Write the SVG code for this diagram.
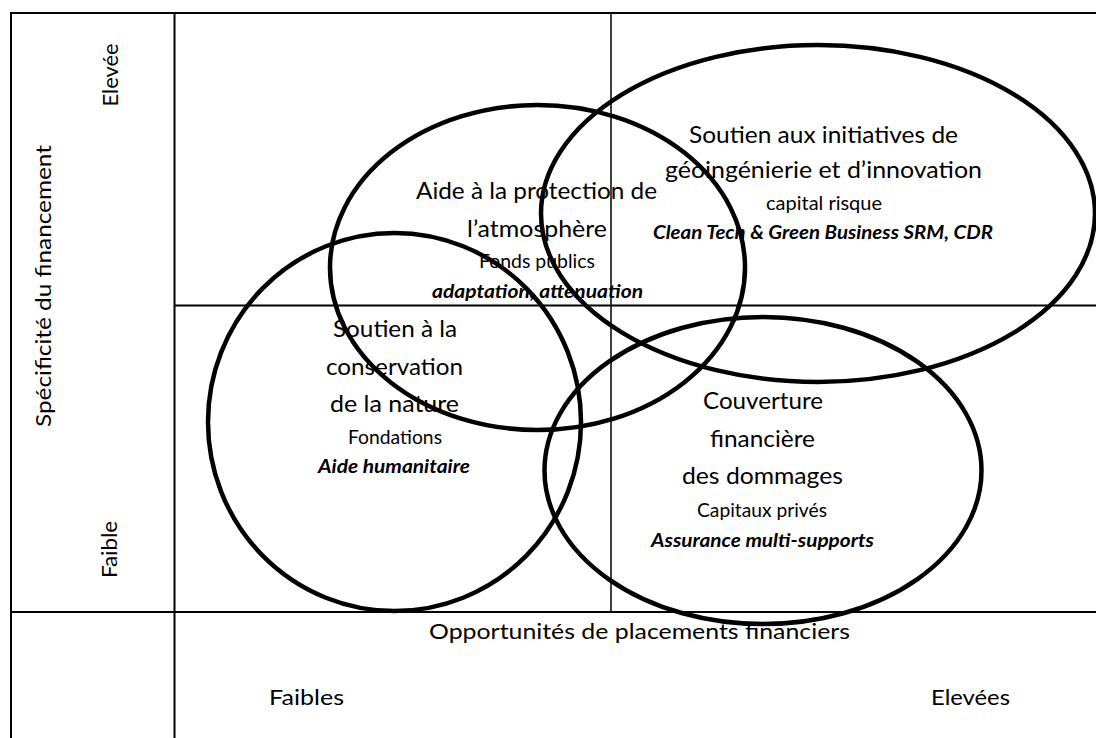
<svg xmlns="http://www.w3.org/2000/svg" width="1096" height="738" viewBox="0 0 1096 738">
<style>
text{font-family:Lato,"Liberation Sans",sans-serif;fill:#000;text-anchor:middle}
.big{font-size:23px}
.sm{font-size:19px}
.bi{font-size:19px;font-weight:bold;font-style:italic}
.ax{font-size:22px}
.grid{stroke:#000;stroke-width:2;fill:none}
.mid{stroke:#000;stroke-width:1.5;fill:none}
.ell{stroke:#000;stroke-width:4.5;fill:none}
</style>
<rect width="1096" height="738" fill="#fff"/>
<g id="table">
<line class="grid" x1="11" y1="13" x2="1096" y2="13"/>
<line class="grid" x1="11" y1="12" x2="11" y2="738"/>
<line class="grid" x1="174.5" y1="12" x2="174.5" y2="738"/>
<line class="grid" x1="11" y1="612" x2="1096" y2="612"/>
<line class="mid" x1="611" y1="13" x2="611" y2="612"/>
<line class="grid" x1="174.5" y1="305.5" x2="1096" y2="305.5"/>
</g>
<g id="axes">
<text class="ax" transform="translate(51,286) rotate(-90)" textLength="282" lengthAdjust="spacingAndGlyphs">Spécificité du financement</text>
<text class="ax" transform="translate(118,75) rotate(-90)" textLength="63" lengthAdjust="spacingAndGlyphs">Elevée</text>
<text class="ax" transform="translate(117,549.5) rotate(-90)" textLength="57" lengthAdjust="spacingAndGlyphs">Faible</text>
<text class="ax" x="639.5" y="639" textLength="421" lengthAdjust="spacingAndGlyphs">Opportunités de placements financiers</text>
<text class="ax" x="306.5" y="705" textLength="75" lengthAdjust="spacingAndGlyphs">Faibles</text>
<text class="ax" x="970.5" y="705" textLength="79" lengthAdjust="spacingAndGlyphs">Elevées</text>
</g>
<g id="nature">
<ellipse class="ell" cx="394.5" cy="422" rx="186.5" ry="189"/>
<text class="big" x="395" y="337" textLength="124" lengthAdjust="spacingAndGlyphs">Soutien à la</text>
<text class="big" x="394.5" y="375" textLength="137" lengthAdjust="spacingAndGlyphs">conservation</text>
<text class="big" x="394.5" y="412" textLength="129" lengthAdjust="spacingAndGlyphs">de la nature</text>
<text class="sm" x="395" y="444" textLength="94" lengthAdjust="spacingAndGlyphs">Fondations</text>
<text class="bi" x="394" y="473" textLength="152" lengthAdjust="spacingAndGlyphs">Aide humanitaire</text>
</g>
<g id="atmosphere">
<ellipse class="ell" cx="537.5" cy="267.5" rx="207.5" ry="162.5"/>
<text class="big" x="536.5" y="199" textLength="241" lengthAdjust="spacingAndGlyphs">Aide à la protection de</text>
<text class="big" x="537" y="237" textLength="140" lengthAdjust="spacingAndGlyphs">l’atmosphère</text>
<text class="sm" x="537" y="268" textLength="116" lengthAdjust="spacingAndGlyphs">Fonds publics</text>
<text class="bi" x="537.5" y="298" textLength="211" lengthAdjust="spacingAndGlyphs">adaptation, attenuation</text>
</g>
<g id="geoingenierie">
<ellipse class="ell" cx="818" cy="213.5" rx="277" ry="168.5"/>
<text class="big" x="823.5" y="143" textLength="269" lengthAdjust="spacingAndGlyphs">Soutien aux initiatives de</text>
<text class="big" x="823.5" y="178" textLength="317" lengthAdjust="spacingAndGlyphs">géoingénierie et d’innovation</text>
<text class="sm" x="824" y="210" textLength="116" lengthAdjust="spacingAndGlyphs">capital risque</text>
<text class="bi" x="823" y="239" textLength="340" lengthAdjust="spacingAndGlyphs">Clean Tech &amp; Green Business SRM, CDR</text>
</g>
<g id="dommages">
<ellipse class="ell" cx="763" cy="470.5" rx="218.5" ry="153.5"/>
<text class="big" x="763" y="409" textLength="120" lengthAdjust="spacingAndGlyphs">Couverture</text>
<text class="big" x="762.5" y="447" textLength="105" lengthAdjust="spacingAndGlyphs">financière</text>
<text class="big" x="762.5" y="484" textLength="161" lengthAdjust="spacingAndGlyphs">des dommages</text>
<text class="sm" x="762" y="517" textLength="130" lengthAdjust="spacingAndGlyphs">Capitaux privés</text>
<text class="bi" x="762.5" y="547" textLength="223" lengthAdjust="spacingAndGlyphs">Assurance multi-supports</text>
</g>
<g id="connectors"/>
</svg>
